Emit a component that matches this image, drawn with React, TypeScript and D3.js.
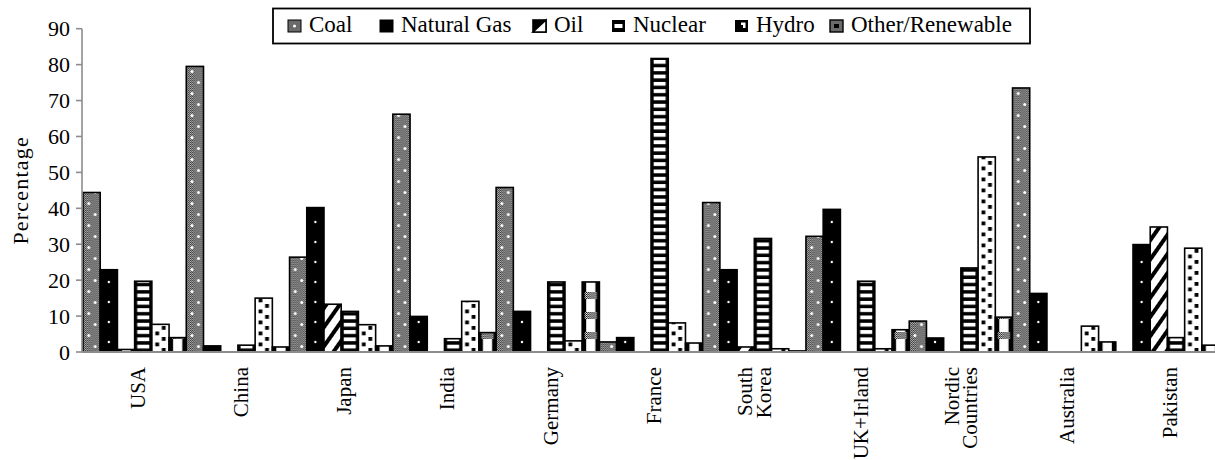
import React from 'react';
import * as d3 from 'd3';

// ---------- data ----------
const countries = ['USA', 'China', 'Japan', 'India', 'Germany', 'France', 'South Korea', 'UK+Irland', 'Nordic Countries', 'Australia', 'Pakistan'];
const countryLabelLines = [['USA'], ['China'], ['Japan'], ['India'], ['Germany'], ['France'], ['South', 'Korea'], ['UK+Irland'], ['Nordic', 'Countries'], ['Australia'], ['Pakistan']];
const seriesNames = ['Coal', 'Natural Gas', 'Oil', 'Nuclear', 'Hydro', 'Other/Renewable'];
const coal = [44.4, 79.5, 26.4, 66.2, 45.8, 2.8, 41.6, 32.2, 8.6, 73.5, 0];
const naturalGas = [22.9, 1.7, 40.2, 9.9, 11.3, 4.0, 22.9, 39.7, 3.9, 16.3, 29.9];
const oil = [0.7, 0, 13.3, 0, 0, 0, 1.4, 0, 0, 0, 34.8];
const nuclear = [19.7, 1.9, 11.3, 3.7, 19.5, 81.7, 31.6, 19.7, 23.4, 0, 4.0];
const hydro = [7.7, 15.0, 7.6, 14.1, 3.1, 8.1, 0.9, 0.9, 54.3, 7.2, 28.9];
const other = [4.0, 1.4, 1.7, 5.4, 19.5, 2.5, 0.3, 6.2, 9.7, 2.8, 1.9];
const seriesValues = [coal, naturalGas, oil, nuclear, hydro, other];
const yTicks = [0, 10, 20, 30, 40, 50, 60, 70, 80, 90];
const yTitle = 'Percentage';

// ---------- layout ----------
const W = 1215;
const H = 460;
const X0 = 83;
const GROUP_W = 103.28;
const Y_BASE = 352;
const Y_TOP = 28.7;
const LEGEND_X = [288, 380, 533, 612, 735, 830];
const FONT = "'Liberation Serif', 'Times New Roman', Times, serif";
const patIds = ['pCoal', 'pGas', 'pOil', 'pNuc', 'pHydro', 'pOther'];

export default function App() {
  const x = d3.scaleBand<string>().domain(countries).range([X0, X0 + countries.length * GROUP_W]).padding(0);
  const inner = d3.scaleBand<string>().domain(seriesNames).range([0, x.bandwidth()]).padding(0);
  const y = d3.scaleLinear().domain([0, 90]).range([Y_BASE, Y_TOP]);
  const bw = inner.bandwidth();

  const bars: React.ReactNode[] = [];
  countries.forEach((c, ci) => {
    seriesNames.forEach((s, si) => {
      const v = seriesValues[si][ci];
      if (v <= 0) return;
      const bx = (x(c) as number) + (inner(s) as number);
      bars.push(
        <rect key={c + s} x={bx} y={y(v)} width={bw} height={y(0) - y(v)}
          fill={`url(#${patIds[si]})`} stroke="#000" strokeWidth={1.6} />
      );
    });
  });

  const txt = { fontFamily: FONT, fill: '#000' } as React.CSSProperties;

  return (
    <svg width={W} height={H} style={{ position: 'absolute', left: 0, top: 0, background: '#fff', fontFamily: FONT }}>
      <defs>
        <pattern id="chk" patternUnits="userSpaceOnUse" width={2} height={2}>
          <rect width={2} height={2} fill="#fff" />
          <rect x={0} y={0} width={1} height={1} fill="#000" />
          <rect x={1} y={1} width={1} height={1} fill="#000" />
        </pattern>
        <pattern id="pCoal" patternUnits="userSpaceOnUse" x={X0} y={Y_BASE} width={bw} height={22}>
          <rect width={bw} height={22} fill="#6a6a6a" />
          <rect width={bw} height={22} fill="url(#chk)" opacity={0.55} />
          <circle cx={bw * 0.33} cy={5.5} r={1.5} fill="#fff" />
          <circle cx={bw * 0.71} cy={16.5} r={1.5} fill="#fff" />
        </pattern>
        <pattern id="pGas" patternUnits="userSpaceOnUse" x={X0} y={Y_BASE} width={bw} height={20}>
          <rect width={bw} height={20} fill="#000" />
          <circle cx={bw / 2} cy={10} r={1.2} fill="#fff" />
        </pattern>
        <pattern id="pOil" patternUnits="userSpaceOnUse" width={11} height={11} patternTransform="rotate(35)">
          <rect width={11} height={11} fill="#fff" />
          <rect x={0} width={4} height={11} fill="#000" />
        </pattern>
        <pattern id="pNuc" patternUnits="userSpaceOnUse" x={X0} y={Y_BASE} width={bw} height={7.3}>
          <rect width={bw} height={7.3} fill="#000" />
          <rect x={2.6} y={0} width={bw - 5.2} height={3.8} fill="#fff" />
        </pattern>
        <pattern id="pHydro" patternUnits="userSpaceOnUse" x={X0} y={Y_BASE} width={bw} height={11}>
          <rect width={bw} height={11} fill="#fff" />
          <rect x={bw * 0.2} y={1.5} width={3.8} height={3.8} fill="#000" />
          <rect x={bw * 0.58} y={7} width={3.8} height={3.8} fill="#000" />
        </pattern>
        <pattern id="pOther" patternUnits="userSpaceOnUse" x={X0} y={Y_BASE} width={bw} height={20}>
          <rect width={bw} height={20} fill="#000" />
          <rect x={4} y={0} width={bw - 8} height={20} fill="#fff" />
          <rect x={2.5} y={0} width={bw - 5} height={7} fill="url(#chk)" />
        </pattern>
      </defs>

      {/* bars */}
      <g>{bars}</g>

      {/* axes */}
      <line x1={82} x2={82} y1={Y_TOP} y2={Y_BASE} stroke="#8c8c8c" strokeWidth={1.6} />
      <line x1={82} x2={W} y1={Y_BASE} y2={Y_BASE} stroke="#8c8c8c" strokeWidth={2} />
      {yTicks.map((t) => (
        <g key={t}>
          <line x1={76} x2={82} y1={y(t)} y2={y(t)} stroke="#8c8c8c" strokeWidth={1.6} />
          <text x={70} y={y(t) + 7.5} textAnchor="end" fontSize={22} style={txt}>{t}</text>
        </g>
      ))}
      <text transform={`translate(27.5,${(Y_TOP + Y_BASE) / 2}) rotate(-90)`} textAnchor="middle"
        fontSize={22} letterSpacing={1.2} style={txt}>{yTitle}</text>

      {/* x labels */}
      {countries.map((c, ci) => {
        const cx = (x(c) as number) + x.bandwidth() / 2;
        const lines = countryLabelLines[ci];
        const n = lines.length;
        return lines.map((ln, i) => {
          const bx = cx + 10 - (n - 1) * 12 + i * 18.5;
          return (
            <text key={c + i} transform={`translate(${bx},367) rotate(-90)`} textAnchor="end"
              fontSize={21} style={txt}>{ln}</text>
          );
        });
      })}

      {/* legend */}
      <rect x={273} y={8.5} width={757} height={35} fill="#fff" stroke="#000" strokeWidth={1.8} />
      {seriesNames.map((s, i) => {
        const lx = LEGEND_X[i];
        let icon: React.ReactNode = null;
        if (i === 0) icon = (<g><rect x={lx} y={20} width={13} height={12} fill="#6a6a6a" stroke="#000" strokeWidth={1} /><circle cx={lx + 6.5} cy={26} r={1.5} fill="#fff" /></g>);
        if (i === 1) icon = (<rect x={lx} y={20} width={13} height={12} fill="#000" stroke="#000" strokeWidth={1} />);
        if (i === 2) icon = (<g><rect x={lx} y={20} width={13} height={12} fill="#fff" stroke="#000" strokeWidth={1.6} /><path d={`M${lx},${32} L${lx},${20} L${lx + 13},${20} Z`} fill="#000" /><path d={`M${lx},${32} L${lx + 13},${20} L${lx + 13},${32} Z`} fill="#fff" stroke="#000" strokeWidth={1.6} /></g>);
        if (i === 3) icon = (<g><rect x={lx} y={20} width={13} height={12} fill="#000" /><rect x={lx + 2.5} y={24} width={8} height={4} fill="#fff" /></g>);
        if (i === 4) icon = (<g><rect x={lx} y={20} width={13} height={12} fill="#000" /><path d={`M${lx + 6},${22.5} L${lx + 10.5},${22.5} L${lx + 10.5},${28} L${lx + 8},${28} L${lx + 8},${25} L${lx + 6},${25} Z`} fill="#fff" /></g>);
        if (i === 5) icon = (<g><rect x={lx} y={20} width={13} height={12} fill="#6a6a6a" stroke="#000" strokeWidth={1.4} /><rect x={lx + 4} y={24} width={5} height={4} fill="#000" /></g>);
        return (
          <g key={s}>
            {icon}
            <text x={lx + 21} y={32.3} fontSize={23} style={txt}>{s}</text>
          </g>
        );
      })}
    </svg>
  );
}
